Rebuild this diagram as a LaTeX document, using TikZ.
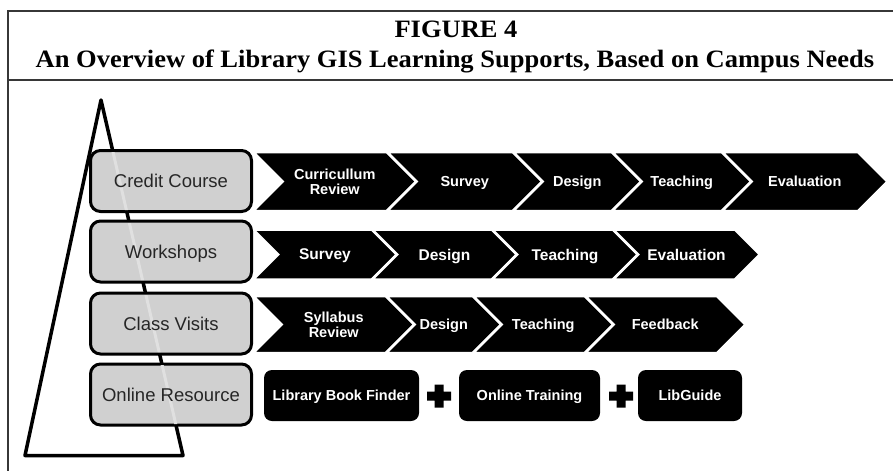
\documentclass[tikz,border=0pt]{standalone}
\usepackage{fontspec}
\setmainfont{Liberation Serif}
\setsansfont{Liberation Sans}
\usetikzlibrary{positioning}
\definecolor{boxgray}{RGB}{208,208,208}
\definecolor{framegray}{RGB}{55,55,55}
\definecolor{seethru}{RGB}{224,224,224}

% one chevron of a process row: name, left, right, top, bottom, label
\newcommand{\chevron}[6]{%
  \pgfmathsetmacro{\dep}{(#5-#4)/2}%
  \pgfmathsetmacro{\ymid}{(#4+#5)/2}%
  \filldraw[fill=black,draw=white,line width=2.5pt]
    (#2,#4) -- (#3,#4) -- (#3+\dep,\ymid) -- (#3,#5) -- (#2,#5)
    -- (#2+\dep,\ymid) -- cycle;
  \node[stage] (#1) at ({(#2+#3)/2+\dep/2},\ymid) {#6};}

\begin{document}
\begin{tikzpicture}[x=1pt,y=-1pt,
    title/.style={font=\fontsize{25}{27}\selectfont\bfseries,anchor=base,
                  inner sep=0},
    level/.style={draw,line width=3pt,rounded corners=10pt,fill=boxgray,
                  minimum width=161pt,minimum height=61pt,inner sep=0},
    levelname/.style={inner sep=0,text=black!85,text height=14pt,
                      text depth=0.8pt,
                      font=\sffamily\fontsize{18.5}{20}\selectfont},
    stage/.style={text=white,align=center,inner sep=0,text depth=0pt,
                  font=\sffamily\bfseries\fontsize{14.5}{15}\selectfont},
    resource/.style={fill=black,rounded corners=8pt,minimum height=51pt,
                     inner sep=0,text=white,text height=11pt,text depth=0.6pt,
                     font=\sffamily\bfseries\fontsize{14.5}{16}\selectfont}]
    \useasboundingbox (0,0) rectangle (893,471);

    \draw[framegray,line width=1.5pt] (893,11) -- (8,11) -- (8,471);
    \draw[framegray,line width=1.5pt] (8,80) -- (893,80);
    \node[title] (fignum) at (456,37) {\scalebox{1.06}[1]{FIGURE 4}};
    \node[title] (figtitle) at (455,67) {\scalebox{1.06}[1]{An Overview of
        Library GIS Learning Supports, Based on Campus Needs}};

    \coordinate (apex) at (101,100);
    \coordinate (baseL) at (25,455.5);
    \coordinate (baseR) at (183,455.5);
    \draw[line width=3.5pt,line join=round] (apex) -- (baseL) -- (baseR) -- cycle;

    \foreach \n/\l/\r/\t in {cc1/253/387/{Curricullum\\Review},cc2/387/513/Survey,
        cc3/513/612/Design,cc4/612/722/Teaching,cc5/722/858/Evaluation}
        {\chevron{\n}{\l}{\r}{152}{211}{\t}}
    \begin{scope}[stage/.append style={font=\sffamily\bfseries\fontsize{15.5}{16}\selectfont}]
    \foreach \n/\l/\r/\t in {ws1/253/372/Survey,ws2/372/492/Design,
        ws3/492/613/Teaching,ws4/613/735/Evaluation}
        {\chevron{\n}{\l}{\r}{229.5}{279.5}{\t}}
    \end{scope}
    \foreach \n/\l/\r/\t in {cv1/253/386/{Syllabus\\Review},cv2/386/473/Design,
        cv3/473/585/Teaching,cv4/585/717/Feedback}
        {\chevron{\n}{\l}{\r}{296}{353}{\t}}

    \node[level] (credit) at (171,181) {};
    \node[level] (workshops) at (171,251.5) {};
    \node[level] (visits) at (171,323.5) {};
    \node[level] (online) at (171,394.5) {};

    % the side of the triangle shows pale through the boxes
    \begin{scope}
        \clip (92,152) rectangle (250,210) (92,223) rectangle (250,280)
              (92,295) rectangle (250,352) (92,365) rectangle (250,424);
        \draw[seethru,line width=3pt] (apex) -- (baseR);
    \end{scope}

    \node[levelname] (credit-t) at (credit) {Credit Course};
    \node[levelname] (workshops-t) at (workshops) {Workshops};
    \node[levelname] (visits-t) at (visits) {Class Visits};
    \node[levelname] (online-t) at (online) {Online Resource};

    \node[resource,minimum width=155pt] (finder) at (341.5,395.5) {Library Book Finder};
    \node[resource,minimum width=141pt] (training) at (529.5,395.5) {Online Training};
    \node[resource,minimum width=104pt] (libguide) at (690,395.5) {LibGuide};
    \foreach \px in {439,621}
        \fill (\px-12,391.5) rectangle (\px+12,400.5)
              (\px-4.5,384.5) rectangle (\px+4.5,407.5);
\end{tikzpicture}
\end{document}
